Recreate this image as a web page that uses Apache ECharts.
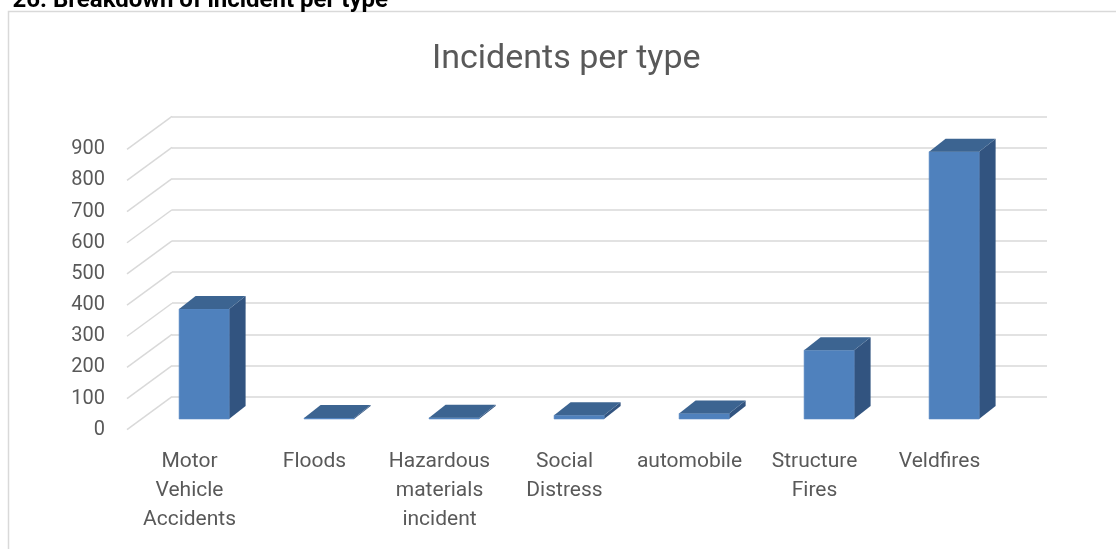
<!DOCTYPE html>
<html>
<head>
<meta charset="utf-8">
<style>
  html, body { margin: 0; padding: 0; background: #fff; }
  #chart { width: 1116px; height: 549px; }
</style>
<script src="https://cdn.jsdelivr.net/npm/echarts@6/dist/echarts.min.js"></script>
</head>
<body>
<div id="chart"></div>
<script>
// Incident counts per type
const categories = [
  'Motor Vehicle Accidents',
  'Floods',
  'Hazardous materials incident',
  'Social Distress',
  'automobile',
  'Structure Fires',
  'Veldfires'
];
const incidents = [353, 3, 4, 12, 18, 221, 858];
const valueTicks = [0, 100, 200, 300, 400, 500, 600, 700, 800, 900];

const FONT = 'Roboto';
const TEXT = '#595959';
const GRID_LINE = '#d9d9d9';

// Perspective of the 3-D box: back wall is shifted right/up from the front plane
const WALL_DX = 45, WALL_DY = 33;
// Bar placement within the depth and bar's own depth
const BAR_FRONT_DX = 30.4, BAR_FRONT_DY = 22.3;
const BAR_DX = 16.5, BAR_DY = 13;

const backGrid = { left: 172, top: 116.3, width: 875, height: 280.4 };
const frontGrid = {
  left: backGrid.left - WALL_DX, top: backGrid.top + WALL_DY,
  width: backGrid.width, height: backGrid.height
};

const chart = echarts.init(document.getElementById('chart'), null, { renderer: 'canvas' });

const option = {
  animation: false,
  backgroundColor: '#fff',
  title: {
    text: 'Incidents per type',
    left: 432,
    top: 42,
    padding: 0,
    textStyle: { fontFamily: FONT, fontSize: 34, fontWeight: 'normal', color: TEXT }
  },
  graphic: [
    {
      type: 'rect', silent: true,
      shape: { x: 8.5, y: 11.5, width: 1200, height: 600 },
      style: { fill: null, stroke: GRID_LINE, lineWidth: 1.5 }
    },
    {
      type: 'text', silent: true, x: 388, y: 13,
      style: {
        text: '26. Breakdown of incident per type',
        font: 'bold 24px ' + FONT, fill: '#000', align: 'right', verticalAlign: 'bottom'
      }
    }
  ],
  grid: [
    Object.assign({ containLabel: false }, backGrid),
    Object.assign({ containLabel: false }, frontGrid)
  ],
  xAxis: [
    {
      type: 'category', gridIndex: 0, data: categories,
      axisLine: { show: false }, axisTick: { show: false }, axisLabel: { show: false }
    },
    {
      type: 'category', gridIndex: 1, data: categories,
      axisLine: { show: false }, axisTick: { show: false },
      axisLabel: {
        interval: 0, margin: 18, color: TEXT, fontFamily: FONT, fontSize: 21, lineHeight: 29,
        formatter: v => v.split(' ').join('\n')
      }
    }
  ],
  yAxis: [
    {
      type: 'value', gridIndex: 0, min: 0, max: 900, interval: 100,
      axisLine: { show: false }, axisTick: { show: false }, axisLabel: { show: false },
      splitLine: { lineStyle: { color: GRID_LINE, width: 1.5 } }
    },
    {
      type: 'value', gridIndex: 1, min: 0, max: 900, interval: 100,
      axisLine: { show: false }, axisTick: { show: false }, splitLine: { show: false },
      axisLabel: { margin: 22, color: TEXT, fontFamily: FONT, fontSize: 20 }
    }
  ],
  series: [
    {
      // side-wall lines joining the front value axis to the back wall
      type: 'custom', xAxisIndex: 0, yAxisIndex: 0, silent: true,
      data: valueTicks,
      renderItem(params, api) {
        const p = api.coord([0, api.value(0)]);
        const bx = params.coordSys.x;
        return {
          type: 'line',
          shape: { x1: bx, y1: p[1], x2: bx - WALL_DX, y2: p[1] + WALL_DY },
          style: { stroke: GRID_LINE, lineWidth: 1.5 }
        };
      },
      encode: { y: 0 }
    },
    {
      type: 'custom', xAxisIndex: 0, yAxisIndex: 0,
      data: incidents.map((v, i) => [i, v]),
      encode: { x: 0, y: 1 },
      renderItem(params, api) {
        const i = api.value(0), v = api.value(1);
        const base = api.coord([i, 0]);
        const top = api.coord([i, v]);
        const half = api.size([1, 0])[0] * 0.2;
        const cx = base[0] - BAR_FRONT_DX;
        const x1 = cx - half, x2 = cx + half;
        const yb = base[1] + BAR_FRONT_DY, yt = top[1] + BAR_FRONT_DY;
        return {
          type: 'group',
          children: [
            {
              type: 'polygon',
              shape: { points: [[x2, yt], [x2 + BAR_DX, yt - BAR_DY], [x2 + BAR_DX, yb - BAR_DY], [x2, yb]] },
              style: { fill: '#325480' }
            },
            {
              type: 'rect',
              shape: { x: x1, y: yt, width: x2 - x1, height: yb - yt },
              style: { fill: '#4F81BD', stroke: '#5a8cc6', lineWidth: 0.6 }
            },
            {
              type: 'polygon',
              shape: { points: [[x1, yt], [x2, yt], [x2 + BAR_DX, yt - BAR_DY], [x1 + BAR_DX, yt - BAR_DY]] },
              style: { fill: '#3C6491' }
            }
          ]
        };
      }
    }
  ]
};

chart.setOption(option);
</script>
</body>
</html>
